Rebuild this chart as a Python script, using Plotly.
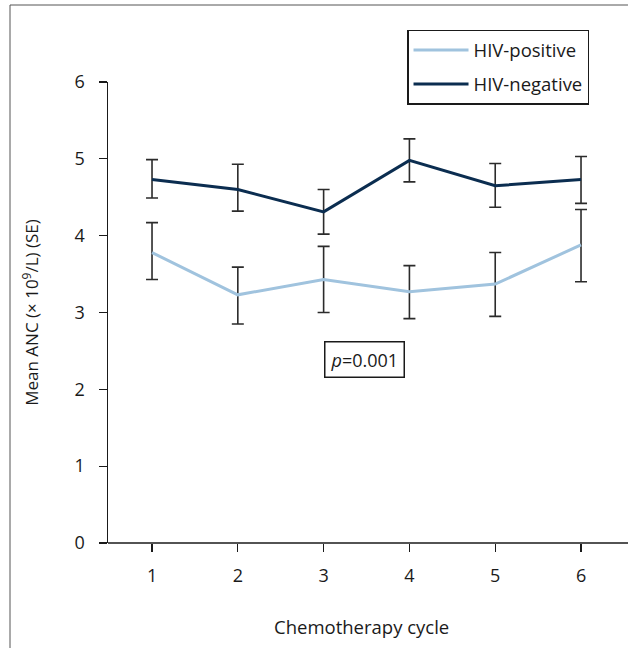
import plotly.graph_objects as go

cycles = [1, 2, 3, 4, 5, 6]
tick_labels = ["1", "2", "3", "4", "5", "6"]

hiv_pos_mean = [3.78, 3.23, 3.43, 3.27, 3.37, 3.88]
hiv_pos_upper = [4.17, 3.59, 3.86, 3.61, 3.78, 4.34]
hiv_pos_lower = [3.43, 2.85, 3.00, 2.92, 2.95, 3.40]

hiv_neg_mean = [4.73, 4.60, 4.31, 4.98, 4.65, 4.73]
hiv_neg_upper = [4.99, 4.93, 4.60, 5.26, 4.94, 5.03]
hiv_neg_lower = [4.49, 4.32, 4.02, 4.70, 4.37, 4.42]

FONT = "Open Sans"
FS = 18
ERR_COLOR = "#2b2b2b"
AXIS_COLOR = "#1a1a1a"


def err(mean, upper, lower):
    return dict(
        type="data",
        symmetric=False,
        array=[u - m for u, m in zip(upper, mean)],
        arrayminus=[m - l for m, l in zip(mean, lower)],
        color=ERR_COLOR,
        thickness=1.6,
        width=6,
    )


fig = go.Figure()
fig.add_trace(go.Scatter(
    x=cycles, y=hiv_pos_mean, mode="lines", name="HIV-positive",
    legendgroup="pos",
    line=dict(color="#a0c3de", width=3),
    error_y=err(hiv_pos_mean, hiv_pos_upper, hiv_pos_lower),
))
fig.add_trace(go.Scatter(
    x=cycles, y=hiv_neg_mean, mode="lines", name="HIV-negative",
    legendgroup="neg",
    line=dict(color="#0b2d50", width=3),
    error_y=err(hiv_neg_mean, hiv_neg_upper, hiv_neg_lower),
))

fig.update_layout(
    width=660, height=648,
    margin=dict(l=108, r=10, t=82, b=105),
    paper_bgcolor="white", plot_bgcolor="white",
    font=dict(family=FONT, size=FS, color=AXIS_COLOR),
    showlegend=True,
    hovermode=False,
    legend=dict(
        x=0.5517, y=1.113, xanchor="left", yanchor="top",
        bordercolor=AXIS_COLOR, borderwidth=1.5, bgcolor="white",
        font=dict(family=FONT, size=18.5, color=AXIS_COLOR),
        itemwidth=55, tracegroupgap=7,
    ),
    xaxis=dict(
        range=[0.487, 6.804], tickvals=cycles, ticktext=tick_labels,
        showline=False,
        ticks="outside", ticklen=8, tickwidth=1.2, tickcolor=AXIS_COLOR,
        ticklabelstandoff=8,
        showgrid=False, zeroline=False, fixedrange=True,
    ),
    yaxis=dict(
        range=[0, 6], tickvals=[0, 1, 2, 3, 4, 5, 6],
        showline=True, linecolor=AXIS_COLOR, linewidth=1.5,
        ticks="outside", ticklen=8, tickwidth=1.2, tickcolor=AXIS_COLOR,
        ticklabelstandoff=10,
        showgrid=False, zeroline=False, fixedrange=True,
        title=dict(text="Mean ANC (× 10<sup>9</sup>/L) (SE)", standoff=31,
                   font=dict(family=FONT, size=17)),
    ),
    annotations=[
        dict(
            x=3.48, y=2.39, xref="x", yref="y",
            text="<i>p</i>=0.001", showarrow=False,
            bordercolor=AXIS_COLOR, borderwidth=1.5, borderpad=5,
            bgcolor="white", font=dict(family=FONT, size=FS, color=AXIS_COLOR),
        ),
        dict(
            x=0.4686, y=-0.182, xref="paper", yref="paper",
            xanchor="center", yanchor="middle",
            text="Chemotherapy cycle", showarrow=False,
            font=dict(family=FONT, size=18.5, color=AXIS_COLOR),
        ),
    ],
    shapes=[
        # x-axis line (ends short of the right edge, as in the reference)
        dict(type="line", xref="paper", yref="paper",
             x0=0, x1=0.9594, y0=0, y1=0,
             line=dict(color=AXIS_COLOR, width=1.5)),
        # outer frame (top and left)
        dict(type="line", xref="paper", yref="paper",
             x0=-0.1808, x1=0.9594, y0=1.167, y1=1.167,
             line=dict(color="#555555", width=1)),
        dict(type="line", xref="paper", yref="paper",
             x0=-0.1808, x1=-0.1808, y0=1.167, y1=-0.23,
             line=dict(color="#555555", width=1)),
    ],
)

fig.write_html(
    "out.html",
    config={"displayModeBar": False, "staticPlot": True},
    post_script="document.body.style.margin='0';document.body.style.overflow='hidden';",
)
